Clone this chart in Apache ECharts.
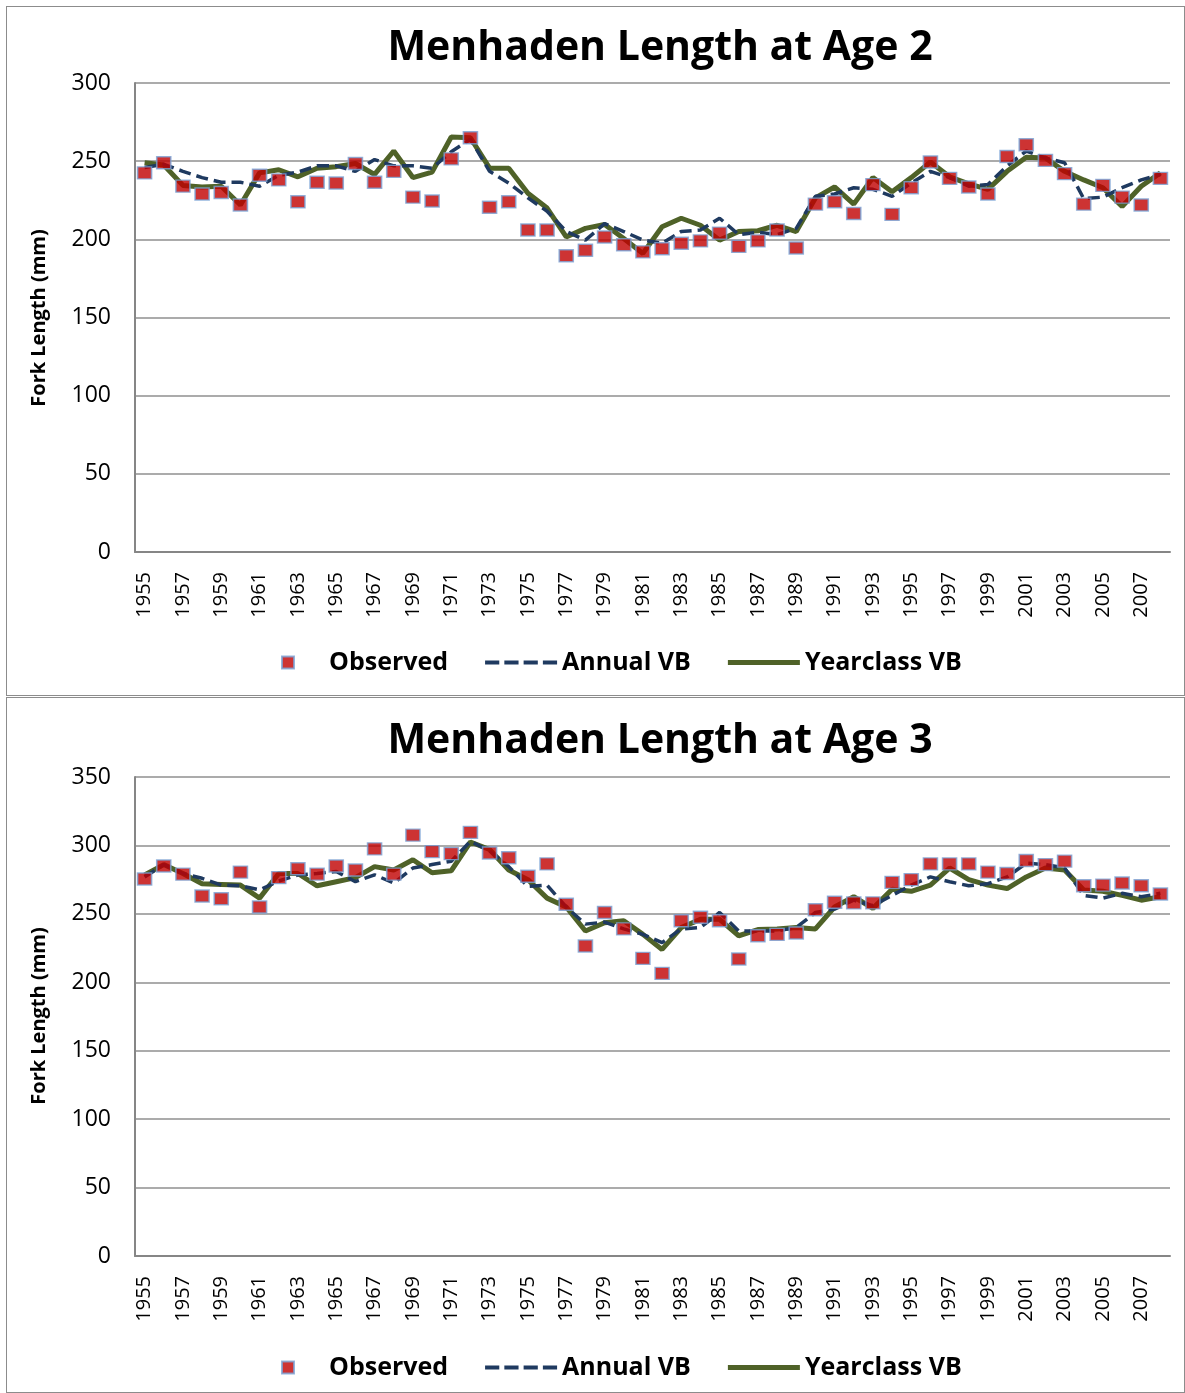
<!DOCTYPE html>
<html>
<head>
<meta charset="utf-8">
<script src="https://cdn.jsdelivr.net/npm/echarts@6/dist/echarts.min.js"></script>
<style>
  body { margin: 0; background: #fff; }
  .panel { position: absolute; left: 6px; width: 1177px; border: 1px solid #8c8c8c; background: #fff; }
</style>
</head>
<body>
<div id="age2" class="panel" style="top:6px;height:688px;"></div>
<div id="age3" class="panel" style="top:697px;height:694px;"></div>
<script>
var years = ['1955','1956','1957','1958','1959','1960','1961','1962','1963','1964',
  '1965','1966','1967','1968','1969','1970','1971','1972','1973','1974',
  '1975','1976','1977','1978','1979','1980','1981','1982','1983','1984',
  '1985','1986','1987','1988','1989','1990','1991','1992','1993','1994',
  '1995','1996','1997','1998','1999','2000','2001','2002','2003','2004',
  '2005','2006','2007','2008'];

// age 2
var age2Observed = [242.5,249,234,229,230,222,241,238,224,236.5,
  236,248.5,236.5,243.5,227,224.5,251.5,265,220.5,224,
  206,206,189.5,193,201.5,196.5,192,194,197.5,199,
  204,195.5,199,206,194.5,222.5,224,216.5,235,216,
  233,249.5,239,233.5,229,253,260.5,250.5,242,222.5,
  234.5,227,222,239];
var age2Annual = [246,248,243.5,239.5,236.5,236.5,234,241,243,247,
  247,243.5,251,247,247,245.5,256,264,243.5,236,
  226.5,218,205,199.5,210,205,199.5,197.5,205,206,
  213.5,203,204.5,203,207,227.5,229,233,232,227.5,
  236,243.5,239.5,234,235,247,256.5,252,249,226,
  227,233,238,241.5];
var age2Yearclass = [249,247.5,234.5,233.5,234,222,242.5,244.5,240,245.5,
  246.5,248.5,241.5,256.5,239.5,243,265.5,265,245.5,245.5,
  229.5,220,201.5,207,209.5,200.5,191,208,213.5,209,
  199.5,205,205.5,209,205,226.5,233.5,222.5,239.5,230.5,
  239.5,249.5,240,235.5,232,243.5,252.5,252,243.5,238,
  233,221,234,242.5];

// age 3
var age3Observed = [275.5,285,279,263,261,280.5,255,276.5,283,279,
  285,282,297.5,279,307.5,295.5,294,309.5,294.5,291,
  277.5,286.5,257,226.5,251,239,217.5,206.5,245,247.5,
  245,217,234,235,236,253,258.5,258,258,273,
  275,286.5,286.5,286.5,280.5,279.5,289,286,288.5,270.5,
  271,272.5,270.5,264.5];
var age3Annual = [277,286,279.5,276,271,270.5,267.5,274,278.5,279.5,
  281,273.5,278.5,272.5,283.5,286,288.5,303,296,284.5,
  270,271,255,242.5,244,239,235,229,239,240,
  251,237.5,237.5,237.5,240,251,253.5,260,256,263.5,
  271,277,273.5,270.5,272,277,287,286,283.5,263.5,
  261.5,265,262.5,265];
var age3Yearclass = [278.5,286,279.5,272,271.5,271,261.5,279.5,279.5,270.5,
  273.5,276.5,284.5,282,289.5,280,281.5,302.5,297,282,
  275,261.5,255,237.5,243.5,245,235,224,240,246,
  246,234,238.5,239,240,239,255,262.5,254,268,
  266.5,271,283.5,275,271,268.5,277,283.5,282,267.5,
  266.5,263.5,260,262.5];

var FONT = '"Open Sans", "DejaVu Sans", sans-serif';

// legend icons drawn as filled paths so the dashes look like the original key
var ICON_SQUARE = 'path://M0,0H10V10H0Z';
var ICON_DASH = 'path://M0,0H14V4H0Z M19,0H33V4H19Z M38,0H52V4H38Z M57,0H71V4H57Z';
var ICON_SOLID = 'path://M0,0H74V5H0Z';

function buildOption(title, obs, annual, yearclass, yMax, gridTop, gridHeight, legendTop, titleY, nameY) {
    return {
        animation: false,
        grid: { left: 128, top: gridTop, width: 1035, height: gridHeight },
        graphic: [
            {
                type: 'text', x: 653, y: titleY,
                style: { text: title, font: 'bold 41px ' + FONT, fill: '#000',
                         textAlign: 'center', textVerticalAlign: 'middle' }
            },
            {
                type: 'text', x: 32, y: nameY, rotation: Math.PI / 2,
                style: { text: 'Fork Length (mm)', font: 'bold 20px ' + FONT, fill: '#000',
                         textAlign: 'center', textVerticalAlign: 'middle' }
            }
        ],
        legend: {
            left: 269, top: legendTop,
            itemWidth: 72, itemHeight: 12, itemGap: 37,
            textStyle: { fontFamily: FONT, fontSize: 25, fontWeight: 'bold', color: '#000' },
            data: [
                { name: 'Observed', icon: ICON_SQUARE },
                { name: 'Annual VB', icon: ICON_DASH },
                { name: 'Yearclass VB', icon: ICON_SOLID }
            ]
        },
        xAxis: {
            type: 'category',
            data: years,
            boundaryGap: true,
            axisLine: { lineStyle: { color: '#868686', width: 2 } },
            axisTick: { show: false },
            axisLabel: { interval: 1, rotate: 90, margin: 20, fontFamily: FONT, fontSize: 20, color: '#000' }
        },
        yAxis: {
            type: 'value',
            min: 0, max: yMax, interval: 50,
            axisLine: { show: true, lineStyle: { color: '#868686', width: 2 } },
            axisTick: { show: false },
            axisLabel: { margin: 24, fontFamily: FONT, fontSize: 23, color: '#000' },
            splitLine: { lineStyle: { color: '#8f8f8f', width: 1.5 } }
        },
        series: [
            {
                name: 'Yearclass VB', type: 'line', data: yearclass,
                symbol: 'none', z: 2,
                lineStyle: { color: '#4F6228', width: 5 },
                itemStyle: { color: '#4F6228' }
            },
            {
                name: 'Annual VB', type: 'line', data: annual,
                symbol: 'none', z: 3,
                lineStyle: { color: '#1F3A60', width: 3.5, type: [12, 6] },
                itemStyle: { color: '#1F3A60' }
            },
            {
                name: 'Observed', type: 'scatter', data: obs,
                symbol: 'rect', symbolSize: [14, 12], z: 4,
                itemStyle: { color: '#C00000', borderColor: '#7BA3D6', borderWidth: 1.5 }
            }
        ]
    };
}

var chart2 = echarts.init(document.getElementById('age2'));
chart2.setOption(buildOption('Menhaden Length at Age 2', age2Observed, age2Annual, age2Yearclass,
    300, 76, 469, 638, 41, 311));

var chart3 = echarts.init(document.getElementById('age3'));
chart3.setOption(buildOption('Menhaden Length at Age 3', age3Observed, age3Annual, age3Yearclass,
    350, 79, 479, 652, 43, 318));
</script>
</body>
</html>
